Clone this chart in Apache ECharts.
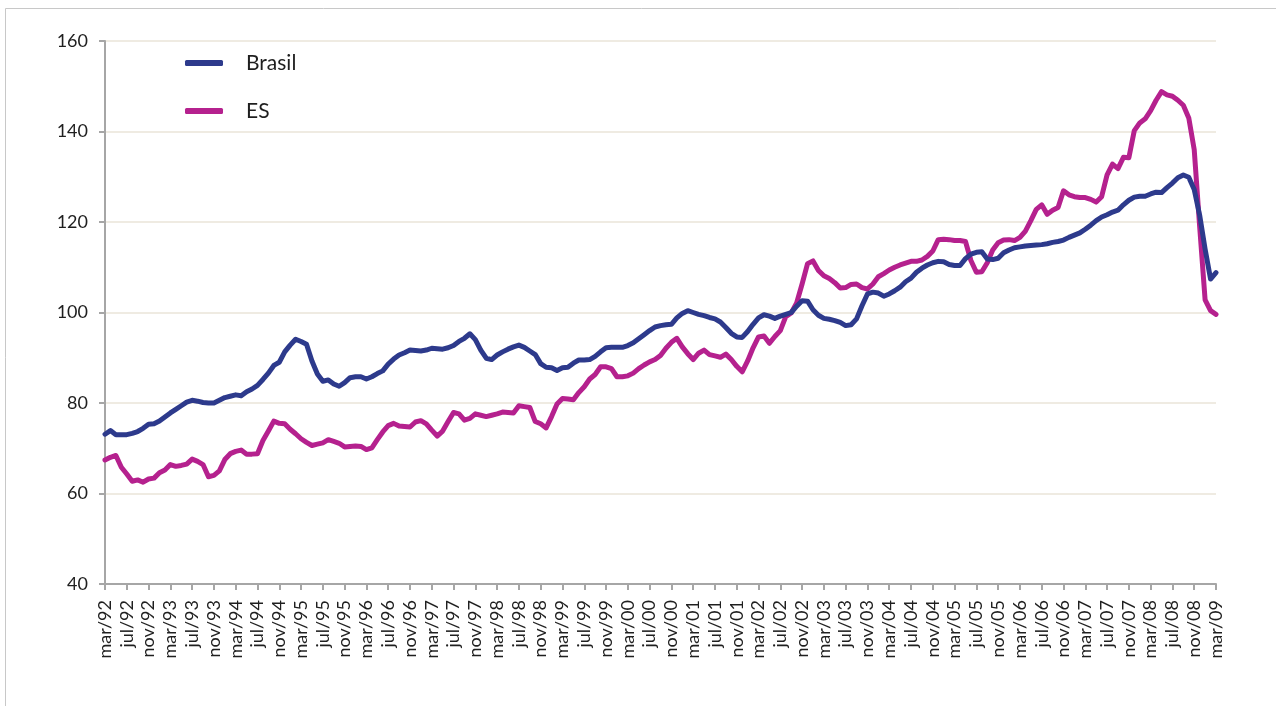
<!DOCTYPE html>
<html>
<head>
<meta charset="utf-8">
<script src="https://cdn.jsdelivr.net/npm/echarts@6/dist/echarts.min.js"></script>
<style>
html,body{margin:0;padding:0;background:#fff;}
#chart{width:1276px;height:706px;}
</style>
</head>
<body>
<div id="chart"></div>
<script>
// Month abbreviations (Portuguese) used to build the category labels
const monthNames = ['jan','fev','mar','abr','mai','jun','jul','ago','set','out','nov','dez'];
const startYear = 1992, startMonth = 2; // mar/92
const nPoints = 205;                     // mar/92 .. mar/09
const categories = [];
for (let k = 0; k < nPoints; k++) {
  const m = (startMonth + k) % 12;
  const y = startYear + Math.floor((startMonth + k) / 12);
  categories.push(monthNames[m] + '/' + String(y % 100).padStart(2, '0'));
}

const yTicks = [40, 60, 80, 100, 120, 140, 160];

const brasil = [
  73.1, 73.9, 73.0, 73.0, 73.0, 73.3, 73.7, 74.4, 75.3, 75.4,
  76.0, 76.9, 77.8, 78.6, 79.4, 80.2, 80.6, 80.4, 80.1, 80.0,
  80.0, 80.6, 81.2, 81.5, 81.8, 81.6, 82.5, 83.1, 83.9, 85.2,
  86.6, 88.3, 89.0, 91.3, 92.8, 94.1, 93.6, 93.0, 89.3, 86.4,
  84.8, 85.1, 84.2, 83.7, 84.5, 85.6, 85.8, 85.8, 85.3, 85.8,
  86.5, 87.1, 88.6, 89.7, 90.6, 91.1, 91.7, 91.6, 91.5, 91.7,
  92.1, 92.0, 91.9, 92.2, 92.7, 93.6, 94.3, 95.3, 94.0, 91.7,
  89.9, 89.6, 90.6, 91.3, 91.9, 92.4, 92.8, 92.3, 91.5, 90.7,
  88.7, 87.9, 87.8, 87.2, 87.8, 87.9, 88.8, 89.5, 89.5, 89.6,
  90.3, 91.3, 92.2, 92.3, 92.3, 92.3, 92.7, 93.3, 94.2, 95.1,
  96.0, 96.8, 97.1, 97.3, 97.4, 98.8, 99.8, 100.4, 100.0, 99.6,
  99.3, 98.9, 98.6, 97.9, 96.7, 95.4, 94.6, 94.5, 95.8, 97.4,
  98.8, 99.5, 99.2, 98.7, 99.2, 99.6, 100.0, 101.4, 102.6, 102.5,
  100.6, 99.4, 98.7, 98.5, 98.2, 97.8, 97.1, 97.3, 98.6, 101.5,
  104.1, 104.5, 104.3, 103.6, 104.1, 104.8, 105.6, 106.8, 107.6, 108.9,
  109.8, 110.5, 111.0, 111.3, 111.2, 110.6, 110.4, 110.4, 111.9, 112.9,
  113.3, 113.4, 111.8, 111.7, 112.0, 113.2, 113.8, 114.3, 114.5, 114.7,
  114.8, 114.9, 115.0, 115.2, 115.5, 115.7, 116.0, 116.6, 117.1, 117.6,
  118.4, 119.3, 120.3, 121.1, 121.6, 122.2, 122.6, 123.8, 124.8, 125.5,
  125.7, 125.7, 126.2, 126.6, 126.5, 127.6, 128.6, 129.8, 130.4, 129.9,
  127.2, 121.5, 114.0, 107.4, 108.8
];

const es = [
  67.4, 68.0, 68.4, 65.8, 64.3, 62.7, 63.0, 62.5, 63.2, 63.4,
  64.6, 65.2, 66.4, 66.0, 66.2, 66.5, 67.6, 67.1, 66.4, 63.7,
  64.0, 65.0, 67.5, 68.8, 69.3, 69.6, 68.7, 68.7, 68.8, 71.7,
  73.8, 76.0, 75.5, 75.4, 74.2, 73.2, 72.1, 71.3, 70.6, 70.9,
  71.2, 71.9, 71.5, 71.1, 70.3, 70.4, 70.5, 70.4, 69.7, 70.1,
  71.9, 73.6, 75.0, 75.5, 74.9, 74.8, 74.7, 75.8, 76.1, 75.4,
  74.0, 72.7, 73.8, 75.9, 77.9, 77.6, 76.2, 76.6, 77.6, 77.3,
  77.0, 77.3, 77.6, 78.0, 77.9, 77.8, 79.4, 79.2, 79.0, 75.9,
  75.4, 74.5, 77.0, 79.8, 81.0, 80.9, 80.7, 82.3, 83.6, 85.3,
  86.3, 88.0, 88.0, 87.6, 85.8, 85.8, 86.0, 86.6, 87.6, 88.4,
  89.1, 89.6, 90.5, 92.1, 93.4, 94.3, 92.4, 90.9, 89.6, 91.0,
  91.7, 90.7, 90.4, 90.1, 90.8, 89.6, 88.1, 86.9, 89.3, 92.2,
  94.6, 94.8, 93.2, 94.7, 96.0, 99.1, 99.9, 102.1, 106.3, 110.8,
  111.4, 109.3, 108.1, 107.5, 106.6, 105.4, 105.5, 106.2, 106.3, 105.5,
  105.2, 106.3, 107.9, 108.6, 109.4, 110.0, 110.5, 110.9, 111.3, 111.3,
  111.6, 112.4, 113.6, 116.1, 116.2, 116.1, 115.9, 115.9, 115.7, 111.5,
  108.9, 109.0, 111.0, 113.8, 115.4, 116.0, 116.1, 115.9, 116.6, 118.0,
  120.3, 122.8, 123.8, 121.7, 122.6, 123.2, 126.9, 126.0, 125.6, 125.4,
  125.4, 125.0, 124.4, 125.6, 130.4, 132.8, 131.8, 134.3, 134.2, 140.2,
  141.9, 142.8, 144.6, 146.9, 148.8, 148.1, 147.8, 146.9, 145.8, 143.0,
  136.0, 119.0, 102.8, 100.4, 99.6
];

const seriesNames = ['Brasil', 'ES'];
const seriesColors = ['#2D3A8C', '#B5218E'];

const chart = echarts.init(document.getElementById('chart'), null, {renderer: 'canvas'});
const fontFamily = 'Lato, "Open Sans", sans-serif';
const axisGray = '#A6A6A6';

chart.setOption({
  animation: false,
  backgroundColor: '#ffffff',
  graphic: [{
    type: 'rect',
    shape: {x: 5.5, y: 8.5, width: 1400, height: 900},
    style: {fill: 'none', stroke: '#C8C8C8', lineWidth: 1},
    silent: true, z: -10
  }],
  grid: {left: 105, right: 60, top: 41, bottom: 122, containLabel: false},
  legend: {
    data: seriesNames,
    orient: 'vertical',
    left: 185,
    top: 52,
    itemWidth: 38,
    itemHeight: 6,
    itemGap: 26,
    padding: 0,
    icon: 'roundRect',
    textStyle: {fontFamily: fontFamily, fontSize: 21, lineHeight: 22, color: '#1f1f1f', padding: [0, 0, 0, 18]}
  },
  xAxis: {
    type: 'category',
    data: categories,
    boundaryGap: false,
    axisLine: {lineStyle: {color: axisGray, width: 2}},
    axisTick: {show: true, interval: 3, length: 6, lineStyle: {color: axisGray, width: 2}},
    axisLabel: {interval: 3, rotate: 90, margin: 16, fontFamily: fontFamily, fontSize: 18, color: '#1f1f1f'},
    splitLine: {show: false}
  },
  yAxis: {
    type: 'value',
    min: yTicks[0],
    max: yTicks[yTicks.length - 1],
    interval: 20,
    axisLine: {show: true, lineStyle: {color: axisGray, width: 2}},
    axisTick: {show: true, length: 6, lineStyle: {color: axisGray, width: 2}},
    axisLabel: {margin: 17, fontFamily: fontFamily, fontSize: 18, color: '#1f1f1f'},
    splitLine: {show: true, lineStyle: {color: '#EFEBE2', width: 2}}
  },
  series: [
    {
      name: seriesNames[0], type: 'line', data: brasil, color: seriesColors[0],
      showSymbol: false, symbol: 'none', smooth: false, z: 3,
      lineStyle: {width: 5, color: seriesColors[0], cap: 'round', join: 'round'}
    },
    {
      name: seriesNames[1], type: 'line', data: es, color: seriesColors[1],
      showSymbol: false, symbol: 'none', smooth: false, z: 2,
      lineStyle: {width: 5, color: seriesColors[1], cap: 'round', join: 'round'}
    }
  ]
});
</script>
</body>
</html>
